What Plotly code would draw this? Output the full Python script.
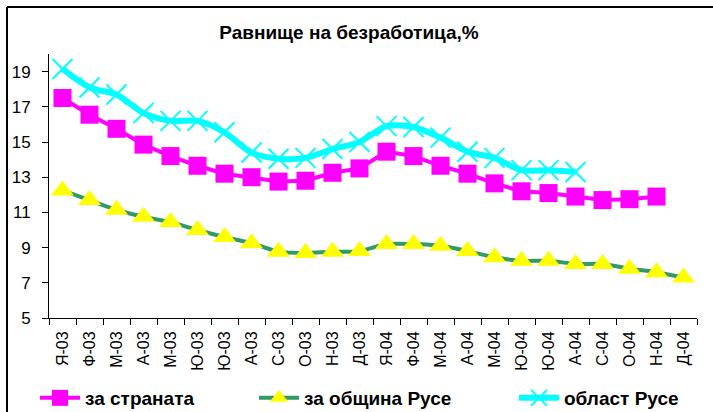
import plotly.graph_objects as go

months = ["Я-03", "Ф-03", "М-03", "А-03", "М-03", "Ю-03", "Ю-03", "А-03", "С-03", "О-03", "Н-03", "Д-03",
          "Я-04", "Ф-04", "М-04", "А-04", "М-04", "Ю-04", "Ю-04", "А-04", "С-04", "О-04", "Н-04", "Д-04"]
cats = [f"{i}" for i in range(len(months))]

country = [17.5, 16.55, 15.75, 14.85, 14.2, 13.65, 13.2, 13.0, 12.75, 12.8, 13.25, 13.5,
           14.45, 14.2, 13.65, 13.2, 12.65, 12.2, 12.1, 11.9, 11.7, 11.75, 11.9, None]
municipality = [12.25, 11.7, 11.15, 10.75, 10.45, 10.0, 9.6, 9.25, 8.77, 8.7, 8.77, 8.8,
                9.2, 9.2, 9.1, 8.8, 8.45, 8.25, 8.25, 8.07, 8.07, 7.8, 7.6, 7.3]
region = [19.15, 18.1, 17.7, 16.65, 16.2, 16.2, 15.55, 14.4, 14.05, 14.1, 14.6, 15.0,
          15.9, 15.85, 15.25, 14.45, 14.1, 13.4, 13.4, 13.3, None, None, None, None]

FONT = "Arial, Liberation Sans, sans-serif"

fig = go.Figure()
fig.add_trace(go.Scatter(
    x=cats, y=country, name="<b>за страната</b>", mode="lines+markers",
    line=dict(color="#FF00FF", width=4),
    marker=dict(symbol="square", size=18, color="#FF00FF"),
    legend="legend"))
fig.add_trace(go.Scatter(
    x=cats, y=municipality, name="<b>за община Русе</b>", mode="lines+markers",
    line=dict(color="#339966", width=4, shape="spline", smoothing=0.8),
    marker=dict(symbol="triangle-up", size=20, color="#FFFF00"),
    legend="legend2"))
fig.add_trace(go.Scatter(
    x=cats, y=region, name="<b>област Русе</b>", mode="lines+markers",
    line=dict(color="#00FFFF", width=6, shape="spline", smoothing=0.8),
    marker=dict(symbol="x-thin-open", size=20, color="#00FFFF",
                line=dict(color="#00FFFF", width=2)),
    legend="legend3"))

pw, ph = 648, 264
def px(x):
    return (x - 49) / pw
def py(y):
    return (318 - y) / ph

legend_common = dict(orientation="h", yanchor="middle", xanchor="left",
                     bgcolor="rgba(0,0,0,0)",
                     font=dict(family=FONT, size=19, color="black"),
                     itemwidth=40)

fig.update_layout(
    width=713, height=412,
    margin=dict(l=49, r=16, t=54, b=94, autoexpand=False),
    paper_bgcolor="white", plot_bgcolor="white",
    font=dict(family=FONT, color="black"),
    title=dict(text="<b>Равнище на безработица,%</b>", x=349/713, xanchor="center",
               y=1 - 32/412, yanchor="middle",
               font=dict(family=FONT, size=19, color="black")),
    showlegend=True,
    legend=dict(x=px(35), y=py(398), **legend_common),
    legend2=dict(x=px(254), y=py(398), **legend_common),
    legend3=dict(x=px(514), y=py(398), **legend_common),
    xaxis=dict(type="category", tickmode="array", tickvals=cats, ticktext=months,
               tickangle=-90, tickson="boundaries", ticks="outside", ticklen=6,
               tickcolor="black", showline=True, linecolor="black", linewidth=1,
               showgrid=False, zeroline=False, ticklabelstandoff=6,
               tickfont=dict(family=FONT, size=16, color="black")),
    yaxis=dict(range=[5, 20], tickvals=[5, 7, 9, 11, 13, 15, 17, 19],
               ticks="outside", ticklen=6, tickcolor="black",
               showline=True, linecolor="black", linewidth=1,
               showgrid=False, zeroline=False, ticklabelstandoff=8,
               tickfont=dict(family=FONT, size=17, color="black")),
    shapes=[
        dict(type="line", xref="paper", yref="paper", x0=px(7), x1=px(720), y0=py(7), y1=py(7),
             line=dict(color="black", width=2)),
        dict(type="line", xref="paper", yref="paper", x0=px(7), x1=px(7), y0=py(7), y1=py(420),
             line=dict(color="black", width=2)),
    ],
)
fig.update_xaxes(range=[-0.5, 23.5])

fig.write_html("out.html", config={"displayModeBar": False},
               post_script="document.body.style.margin='0';document.body.style.overflow='hidden';")
